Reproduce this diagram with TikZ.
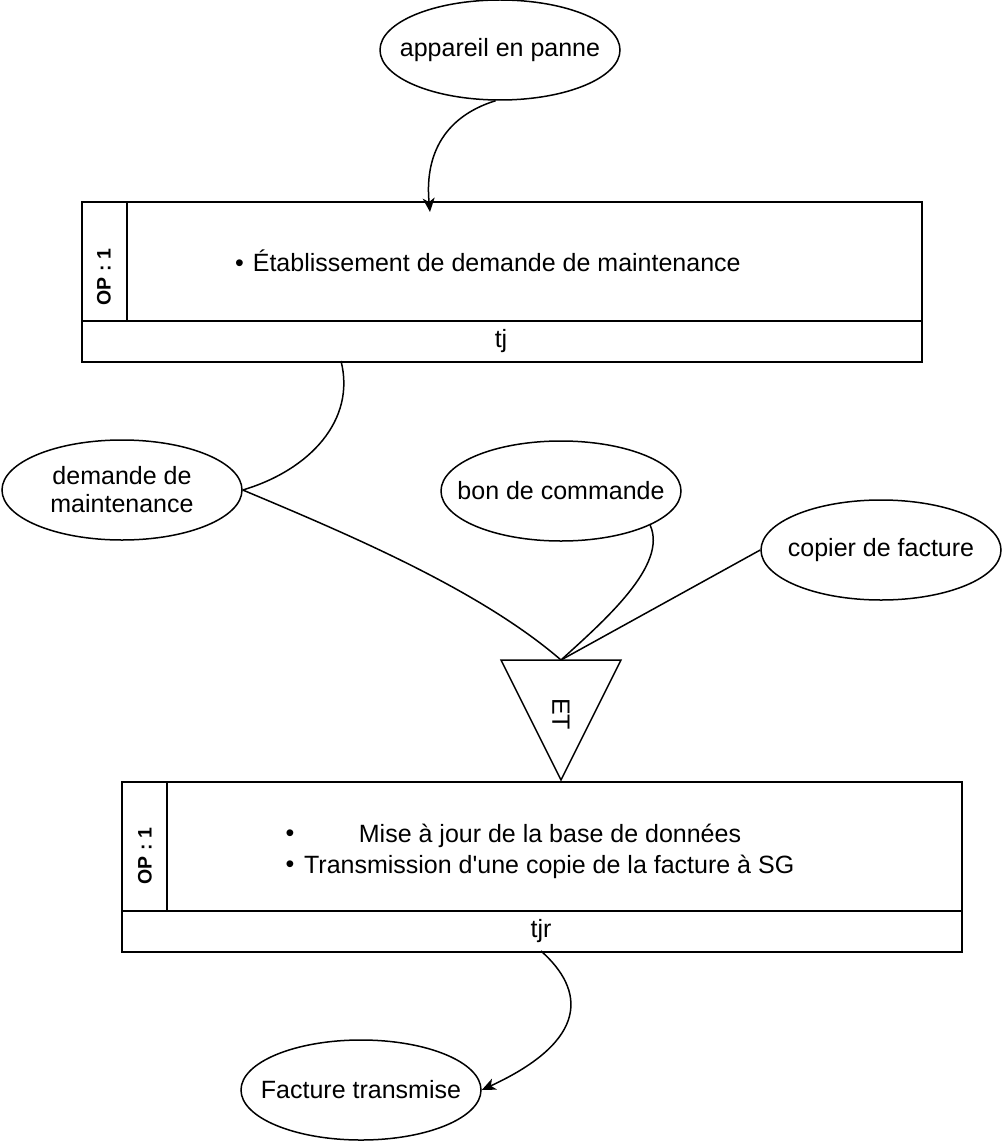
\documentclass[tikz,border=0pt]{standalone}
\usepackage{fontspec}
\setmainfont{Liberation Sans}
\usetikzlibrary{shapes.geometric,arrows.meta}
\tikzset{
  bulle/.style={draw,ellipse,minimum width=240pt,minimum height=100pt,inner sep=0pt,
    label={[align=center]center:#1}},
  cadre/.style={draw,minimum width=840pt,anchor=north west,inner sep=0pt},
  numop/.style={rotate=90,font=\fontsize{19.5}{20}\selectfont\bfseries},
  fleche/.style={-{Stealth[length=14pt,width=12pt,inset=4pt]}},
}
\begin{document}
\begin{tikzpicture}[x=1pt,y=-1pt,line width=1.5pt,font=\fontsize{25}{28}\selectfont]
\useasboundingbox (0,0) rectangle (1002,1142);
% entree
\node[bulle={appareil en panne}] (panne) at (500,50) {};
% operation 1
\node[cadre,minimum height=160pt] (op1) at (81,201) {};
\draw (81,321) -- (921,321);
\draw (127,201) -- (127,321);
\node[numop] (num1) at (104,277) {OP : 1};
\node[anchor=west] (tache1) at (231,261) {\textbullet\hspace{9pt}Établissement de demande de maintenance};
\node (tj) at (501,341) {tj};
\coordinate (in1) at (430,212);
\coordinate (out1) at (341,361);
% documents
\node[bulle={demande de\\maintenance}] (demande) at (122,490) {};
\node[bulle={bon de commande}] (bon) at (561,491) {};
\node[bulle={copier de facture}] (copie) at (881,550) {};
% ET
\draw (501,660) -- (621,660) -- (561,780) -- cycle;
\node[rotate=-90] (et) at (561,714) {ET};
\coordinate (ethaut) at (561,660);
% operation 2
\node[cadre,minimum height=170pt] (op2) at (121,781) {};
\draw (121,911) -- (961,911);
\draw (167,781) -- (167,911);
\node[numop] (num2) at (145,856) {OP : 1};
\node (puce1) at (290,836) {\textbullet};
\node (tache2) at (550,836) {Mise à jour de la base de données};
\node (puce2) at (290,867) {\textbullet};
\node[anchor=west] (tache3) at (300,867) {Transmission d\textquotesingle une copie de la facture à SG};
\node (tjr) at (541,931) {tjr};
\coordinate (out2) at (541,951);
% sortie
\node[bulle={Facture transmise}] (facture) at (361,1090) {};
% liens
\draw[fleche] (panne.265) .. controls (440,118) and (425,160) .. (in1);
\draw (out1) .. controls (356,420) and (310,470) .. (demande.east);
\draw (demande.east) .. controls (350,535) and (480,590) .. (ethaut);
\draw (bon.-21) .. controls (668,565) and (605,620) .. (ethaut);
\draw (copie.west) -- (ethaut);
\draw[fleche] (out2) .. controls (585,990) and (590,1040) .. (facture.east);
\end{tikzpicture}
\end{document}
